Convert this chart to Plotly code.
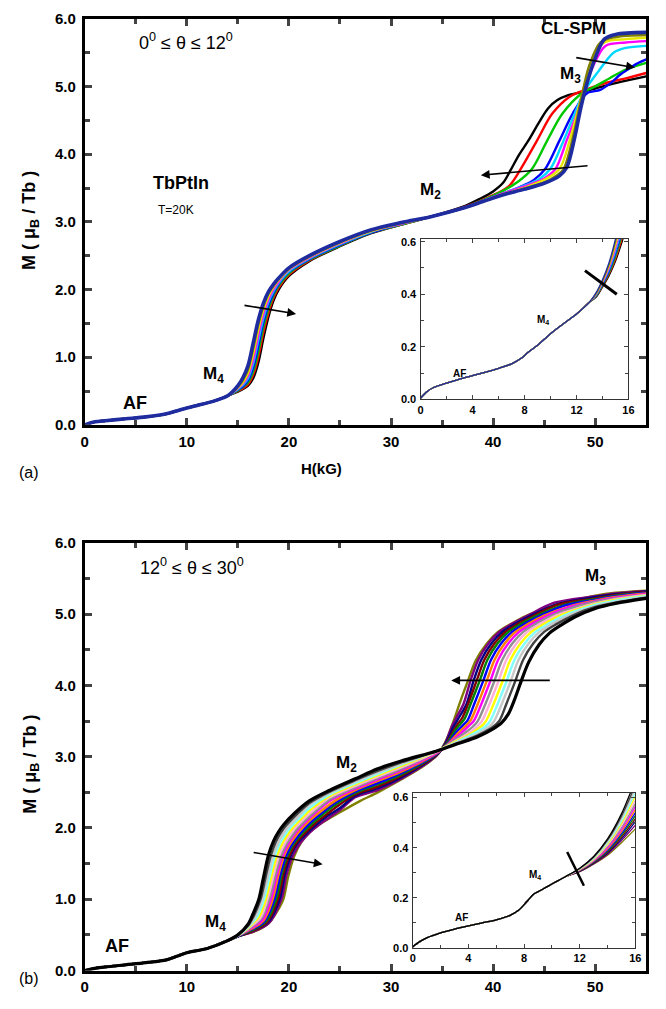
import plotly.graph_objects as go

W, H = 666, 1009

# ---------------- panel (a): 0 deg <= theta <= 12 deg ----------------
# low-field part shared by every curve (H in kG, M in muB/Tb)
h_a_low = [0, 1, 2, 4, 6, 8, 9, 10, 11, 12, 13, 14]
m_a_low = [0, 0.045, 0.062, 0.09, 0.118, 0.163, 0.206, 0.25, 0.288, 0.325, 0.37, 0.43]

h_a_black = [15, 15.5, 16, 16.5, 17, 17.5, 18, 18.5, 19, 20, 22, 25, 28, 31, 34, 37, 38.7, 40, 41, 41.7, 42.5, 43.5, 44.5, 45.4, 46.3, 47.3, 48.8, 50, 52, 55]
m_a_black = [0.49, 0.53, 0.58, 0.69, 0.92, 1.28, 1.6, 1.84, 2.0, 2.2, 2.42, 2.64, 2.83, 2.96, 3.08, 3.22, 3.34, 3.45, 3.58, 3.76, 3.98, 4.21, 4.47, 4.68, 4.8, 4.87, 4.92, 4.97, 5.05, 5.15]
h_a_red = [15, 15.5, 16, 16.5, 17, 17.5, 18, 18.5, 19, 20, 22, 25, 28, 31, 34, 37, 39.5, 41.5, 42.7, 44.3, 45.8, 47.5, 49, 51, 53, 55]
m_a_red = [0.5, 0.54, 0.6, 0.74, 1.0, 1.37, 1.66, 1.88, 2.03, 2.22, 2.43, 2.65, 2.84, 2.96, 3.08, 3.21, 3.36, 3.52, 3.78, 4.2, 4.6, 4.85, 4.95, 5.05, 5.12, 5.2]
h_a_green = [15, 15.5, 16, 16.5, 17, 17.5, 18, 18.5, 19, 20, 22, 25, 28, 31, 34, 37, 39, 40.5, 42.5, 43.8, 45.3, 46.8, 48.7, 50, 51.5, 53, 55]
m_a_green = [0.51, 0.56, 0.63, 0.79, 1.08, 1.45, 1.72, 1.92, 2.06, 2.24, 2.44, 2.65, 2.84, 2.96, 3.08, 3.2, 3.32, 3.42, 3.6, 3.78, 4.2, 4.6, 4.9, 5.0, 5.13, 5.25, 5.35]
h_a_blue = [15, 15.5, 16, 16.5, 17, 17.5, 18, 18.5, 19, 20, 22, 25, 28, 31, 34, 37, 39, 41, 43, 44, 45.1, 46.5, 47.8, 49.2, 50.5, 51.5, 52.5, 53.2, 54, 55]
m_a_blue = [0.52, 0.57, 0.66, 0.85, 1.17, 1.52, 1.77, 1.95, 2.08, 2.26, 2.45, 2.66, 2.84, 2.97, 3.08, 3.2, 3.31, 3.42, 3.54, 3.62, 3.78, 4.2, 4.6, 4.9, 4.95, 5.05, 5.18, 5.25, 5.33, 5.4]
h_a_cyan = [15, 15.5, 16, 16.5, 17, 17.5, 18, 18.5, 19, 20, 22, 25, 28, 31, 34, 37, 39, 41, 43, 44.5, 45.6, 46.9, 48, 48.9, 50.3, 51.8, 53, 55]
m_a_cyan = [0.53, 0.59, 0.69, 0.91, 1.25, 1.58, 1.82, 1.98, 2.1, 2.27, 2.46, 2.67, 2.85, 2.97, 3.08, 3.2, 3.31, 3.42, 3.53, 3.63, 3.78, 4.2, 4.6, 4.92, 5.22, 5.5, 5.57, 5.6]
h_a_magenta = [15, 15.5, 16, 16.5, 17, 17.5, 18, 18.5, 19, 20, 22, 25, 28, 31, 34, 37, 39, 41, 43, 45, 46.1, 47.2, 48.2, 48.9, 49.8, 51, 53, 55]
m_a_magenta = [0.54, 0.61, 0.73, 0.97, 1.33, 1.64, 1.86, 2.01, 2.12, 2.29, 2.47, 2.68, 2.86, 2.97, 3.08, 3.2, 3.31, 3.42, 3.52, 3.64, 3.78, 4.2, 4.6, 4.95, 5.3, 5.6, 5.65, 5.67]
h_a_yellow = [15, 15.5, 16, 16.5, 17, 17.5, 18, 18.5, 19, 20, 22, 25, 28, 31, 34, 37, 39, 41, 43, 45, 46.5, 47.5, 48.4, 49.1, 50, 51, 53, 55]
m_a_yellow = [0.55, 0.63, 0.77, 1.05, 1.41, 1.7, 1.9, 2.04, 2.14, 2.3, 2.48, 2.69, 2.86, 2.98, 3.08, 3.2, 3.3, 3.41, 3.5, 3.62, 3.78, 4.2, 4.7, 5.1, 5.5, 5.66, 5.7, 5.72]
h_a_olive = [15, 15.5, 16, 16.5, 17, 17.5, 18, 18.5, 19, 20, 22, 25, 28, 31, 34, 37, 39, 41, 43, 45, 46.2, 46.9, 47.9, 48.6, 49.4, 50.5, 52, 55]
m_a_olive = [0.56, 0.66, 0.82, 1.13, 1.48, 1.75, 1.94, 2.06, 2.16, 2.31, 2.49, 2.7, 2.87, 2.98, 3.08, 3.2, 3.3, 3.4, 3.49, 3.58, 3.68, 3.78, 4.3, 4.8, 5.3, 5.65, 5.73, 5.76]
h_a_navy = [15, 15.5, 16, 16.5, 17, 17.5, 18, 18.5, 19, 20, 22, 25, 28, 31, 34, 37, 39, 41, 43, 45, 46.5, 47.2, 48, 48.6, 49.3, 50, 50.9, 52, 55]
m_a_navy = [0.58, 0.7, 0.88, 1.21, 1.55, 1.8, 1.97, 2.08, 2.17, 2.32, 2.5, 2.71, 2.88, 2.99, 3.08, 3.2, 3.3, 3.4, 3.48, 3.57, 3.68, 3.8, 4.25, 4.69, 5.1, 5.42, 5.7, 5.77, 5.8]

curves_a = [
    ("#000000", h_a_black, m_a_black),
    ("#ff0000", h_a_red, m_a_red),
    ("#00c800", h_a_green, m_a_green),
    ("#0000ff", h_a_blue, m_a_blue),
    ("#00d8ff", h_a_cyan, m_a_cyan),
    ("#ff00ff", h_a_magenta, m_a_magenta),
    ("#e6e600", h_a_yellow, m_a_yellow),
    ("#808000", h_a_olive, m_a_olive),
    ("#1e2ca0", h_a_navy, m_a_navy),
]

# inset (a): low-field detail
h_ia_low = [0, 0.5, 1, 2, 3, 4, 5, 6, 7, 7.8, 8.3, 9, 10, 11, 12, 13]
m_ia_low = [0.005, 0.03, 0.045, 0.062, 0.077, 0.09, 0.103, 0.118, 0.135, 0.158, 0.18, 0.206, 0.25, 0.288, 0.325, 0.37]
h_ia_tail = [13.5, 14, 14.5, 15, 15.5, 16]
m_ia_black = [0.388, 0.427, 0.47, 0.525, 0.598, 0.68]
m_ia_red = [0.39, 0.43, 0.475, 0.533, 0.61, 0.7]
m_ia_green = [0.392, 0.433, 0.48, 0.542, 0.622, 0.72]
m_ia_blue = [0.394, 0.436, 0.486, 0.552, 0.635, 0.74]
m_ia_cyan = [0.396, 0.44, 0.492, 0.562, 0.65, 0.76]
m_ia_magenta = [0.398, 0.443, 0.498, 0.573, 0.665, 0.78]
m_ia_yellow = [0.4, 0.447, 0.505, 0.585, 0.68, 0.8]
m_ia_olive = [0.402, 0.45, 0.512, 0.598, 0.7, 0.82]
m_ia_navy = [0.405, 0.455, 0.52, 0.61, 0.72, 0.84]
inset_a = [m_ia_black, m_ia_red, m_ia_green, m_ia_blue, m_ia_cyan,
           m_ia_magenta, m_ia_yellow, m_ia_olive, m_ia_navy]

# ---------------- panel (b): 12 deg <= theta <= 30 deg ----------------
h_b_low = [0, 1, 2, 4, 6, 8, 9, 10, 12, 14]
m_b_low = [0, 0.03, 0.05, 0.08, 0.11, 0.15, 0.2, 0.25, 0.31, 0.42]

h_b_00 = [15, 16, 16.5, 17.05, 17.5, 18, 18.5, 19, 19.5, 20.5, 22, 24, 26.5, 28.7, 31, 34.5, 36.5, 38.5, 40, 40.8, 41.5, 42.1, 42.7, 43.5, 44.5, 45.5, 46.7, 48, 50, 52, 55]
m_b_00 = [0.5, 0.65, 0.8, 1.0, 1.3, 1.62, 1.82, 1.95, 2.05, 2.2, 2.38, 2.53, 2.69, 2.83, 2.94, 3.08, 3.18, 3.28, 3.39, 3.47, 3.6, 3.8, 4.04, 4.33, 4.57, 4.73, 4.85, 4.96, 5.08, 5.15, 5.22]
h_b_01 = [15, 16, 16.6, 17.22, 17.7, 18.2, 18.7, 19.2, 19.7, 20.7, 22, 24, 26.5, 28.7, 31, 34.5, 36.5, 38.5, 40, 40.6, 41.3, 42.2, 42.95, 43.95, 45, 46.2, 47.8, 50, 52, 55]
m_b_01 = [0.5, 0.63, 0.78, 1.0, 1.3, 1.6, 1.8, 1.93, 2.03, 2.18, 2.35, 2.51, 2.67, 2.8, 2.92, 3.08, 3.19, 3.3, 3.42, 3.5, 3.74, 4.07, 4.36, 4.59, 4.75, 4.86, 4.98, 5.1, 5.16, 5.23]
h_b_02 = [15, 16, 16.7, 17.39, 17.9, 18.4, 18.9, 19.4, 19.9, 20.9, 22, 24, 26.5, 28.7, 31, 34.5, 36.5, 38.5, 39.6, 40.1, 40.85, 41.75, 42.5, 43.5, 44.55, 45.75, 47.35, 50, 52, 55]
m_b_02 = [0.5, 0.62, 0.76, 1.0, 1.3, 1.59, 1.78, 1.91, 2.01, 2.16, 2.32, 2.49, 2.65, 2.78, 2.9, 3.08, 3.2, 3.32, 3.42, 3.5, 3.74, 4.07, 4.36, 4.59, 4.75, 4.86, 4.98, 5.11, 5.17, 5.24]
h_b_03 = [15, 16, 16.9, 17.56, 18.1, 18.6, 19.1, 19.6, 20.1, 21.1, 22, 24, 26.5, 28.7, 31, 34.5, 36.5, 38.2, 39.2, 39.7, 40.45, 41.35, 42.1, 43.1, 44.15, 45.35, 46.95, 50, 52, 55]
m_b_03 = [0.49, 0.61, 0.76, 1.0, 1.32, 1.6, 1.78, 1.9, 2.0, 2.15, 2.28, 2.47, 2.63, 2.76, 2.89, 3.08, 3.21, 3.33, 3.42, 3.5, 3.74, 4.07, 4.36, 4.59, 4.75, 4.86, 4.98, 5.13, 5.19, 5.25]
h_b_04 = [15, 16, 17.1, 17.73, 18.3, 18.8, 19.3, 19.8, 20.3, 21.3, 22.3, 24, 26.5, 28.7, 31, 34.5, 36.3, 37.9, 38.8, 39.3, 40.05, 40.95, 41.7, 42.7, 43.75, 44.95, 46.55, 50, 52, 55]
m_b_04 = [0.49, 0.6, 0.76, 1.0, 1.33, 1.6, 1.77, 1.89, 1.99, 2.14, 2.28, 2.45, 2.61, 2.74, 2.87, 3.08, 3.21, 3.33, 3.42, 3.5, 3.74, 4.07, 4.36, 4.59, 4.75, 4.86, 4.98, 5.14, 5.2, 5.26]
h_b_05 = [15, 16, 17.2, 17.9, 18.5, 19, 19.5, 20, 20.5, 21.5, 22.5, 24, 26.5, 28.7, 31, 34.5, 36.2, 37.6, 38.4, 38.9, 39.65, 40.55, 41.3, 42.3, 43.35, 44.55, 46.15, 48.5, 50, 52, 55]
m_b_05 = [0.49, 0.59, 0.74, 1.0, 1.34, 1.6, 1.76, 1.88, 1.98, 2.13, 2.26, 2.43, 2.59, 2.72, 2.85, 3.07, 3.21, 3.33, 3.42, 3.5, 3.74, 4.07, 4.36, 4.59, 4.75, 4.86, 4.98, 5.09, 5.15, 5.21, 5.27]
h_b_06 = [15, 16, 17.3, 18.07, 18.7, 19.2, 19.7, 20.2, 20.7, 21.7, 22.7, 24, 26.5, 28.7, 31, 34.5, 36, 37.3, 38, 38.5, 39.25, 40.15, 40.9, 41.9, 42.95, 44.15, 45.75, 48, 50, 52, 55]
m_b_06 = [0.49, 0.58, 0.73, 1.0, 1.35, 1.6, 1.76, 1.87, 1.97, 2.12, 2.25, 2.4, 2.57, 2.7, 2.83, 3.07, 3.21, 3.34, 3.42, 3.5, 3.74, 4.07, 4.36, 4.59, 4.75, 4.86, 4.98, 5.1, 5.17, 5.22, 5.27]
h_b_07 = [15, 16, 17.4, 18.24, 18.8, 19.3, 19.8, 20.3, 20.8, 21.8, 22.8, 24, 26.5, 28.7, 31, 34.5, 35.9, 37, 37.6, 38.1, 38.85, 39.75, 40.5, 41.5, 42.55, 43.75, 45.35, 47.5, 50, 52, 55]
m_b_07 = [0.49, 0.57, 0.71, 1.0, 1.33, 1.58, 1.74, 1.86, 1.96, 2.11, 2.24, 2.38, 2.55, 2.68, 2.81, 3.06, 3.21, 3.35, 3.43, 3.5, 3.74, 4.07, 4.36, 4.59, 4.75, 4.86, 4.98, 5.1, 5.18, 5.23, 5.28]
h_b_08 = [15, 16, 17.5, 18.41, 19, 19.5, 20, 20.5, 21, 22, 23, 24.5, 26.5, 28.7, 31, 34.5, 35.8, 36.7, 37.3, 37.8, 38.5, 39.4, 40.15, 41.15, 42.2, 43.4, 45, 47.5, 50, 52, 55]
m_b_08 = [0.49, 0.56, 0.7, 1.0, 1.36, 1.6, 1.75, 1.86, 1.95, 2.1, 2.22, 2.38, 2.53, 2.66, 2.79, 3.05, 3.21, 3.35, 3.43, 3.51, 3.74, 4.07, 4.36, 4.59, 4.75, 4.86, 4.98, 5.11, 5.19, 5.24, 5.29]
h_b_09 = [15, 16, 17.6, 18.58, 19.2, 19.7, 20.2, 20.7, 21.2, 22.2, 23.2, 24.5, 26.5, 28.7, 31, 34.5, 35.7, 36.5, 37.05, 37.5, 38.15, 39.05, 39.8, 40.8, 41.85, 43.05, 44.65, 47, 50, 52, 55]
m_b_09 = [0.48, 0.55, 0.69, 1.0, 1.37, 1.6, 1.75, 1.85, 1.94, 2.09, 2.21, 2.35, 2.51, 2.63, 2.77, 3.04, 3.21, 3.36, 3.44, 3.51, 3.74, 4.07, 4.36, 4.59, 4.75, 4.86, 4.98, 5.12, 5.2, 5.25, 5.3]
h_b_10 = [15, 16, 17.7, 18.75, 19.3, 19.8, 20.3, 20.8, 21.4, 22.4, 23.4, 24.5, 26.5, 28.7, 31, 34.5, 35.6, 36.3, 36.8, 37.2, 37.8, 38.7, 39.45, 40.45, 41.5, 42.7, 44.3, 47, 50, 52, 55]
m_b_10 = [0.48, 0.54, 0.68, 1.0, 1.36, 1.59, 1.74, 1.84, 1.94, 2.08, 2.2, 2.32, 2.49, 2.61, 2.75, 3.04, 3.21, 3.37, 3.46, 3.53, 3.74, 4.07, 4.36, 4.59, 4.75, 4.86, 4.98, 5.13, 5.21, 5.26, 5.3]
h_b_11 = [15, 16, 17.8, 18.92, 19.5, 20, 20.5, 21, 21.6, 22.6, 23.6, 24.5, 26.5, 28.7, 31, 34.5, 35.5, 36.15, 36.6, 37, 37.55, 38.4, 39.15, 40.15, 41.2, 42.4, 44, 46.5, 50, 52, 55]
m_b_11 = [0.48, 0.53, 0.67, 1.0, 1.38, 1.6, 1.74, 1.84, 1.93, 2.07, 2.18, 2.28, 2.47, 2.58, 2.73, 3.03, 3.2, 3.37, 3.47, 3.55, 3.74, 4.07, 4.36, 4.59, 4.75, 4.86, 4.98, 5.14, 5.22, 5.27, 5.31]
h_b_12 = [15, 16, 17.9, 19.09, 19.6, 20.1, 20.6, 21.1, 21.8, 22.8, 23.8, 25, 26.5, 28.7, 31, 34.5, 35.4, 36.05, 36.7, 37.4, 38.1, 38.85, 39.85, 40.9, 42.1, 43.7, 46.5, 50, 52, 55]
m_b_12 = [0.48, 0.53, 0.67, 1.0, 1.35, 1.58, 1.73, 1.83, 1.93, 2.06, 2.17, 2.28, 2.45, 2.56, 2.71, 3.03, 3.2, 3.4, 3.56, 3.74, 4.07, 4.36, 4.59, 4.75, 4.86, 4.98, 5.15, 5.24, 5.28, 5.32]
h_b_13 = [15, 16, 18, 19.26, 19.75, 20.3, 20.8, 21.3, 22, 23, 24, 25, 26.5, 28.7, 31, 34.5, 35.35, 35.95, 36.6, 37.1, 37.8, 38.55, 39.55, 40.6, 41.8, 43.4, 46, 50, 52, 55]
m_b_13 = [0.48, 0.52, 0.66, 1.0, 1.33, 1.58, 1.72, 1.82, 1.93, 2.05, 2.15, 2.25, 2.43, 2.53, 2.69, 3.02, 3.2, 3.42, 3.6, 3.74, 4.07, 4.36, 4.59, 4.75, 4.86, 4.98, 5.16, 5.25, 5.29, 5.32]
h_b_14 = [15, 16, 17, 18, 18.8, 19.45, 19.9, 20.5, 21.2, 22.1, 23, 25, 27, 28.7, 31, 33, 34.5, 35.3, 36, 36.8, 37.55, 38.3, 39.3, 40.4, 41.6, 43.3, 45.1, 47.5, 50, 52, 55]
m_b_14 = [0.48, 0.52, 0.57, 0.66, 0.82, 1.0, 1.3, 1.6, 1.8, 1.95, 2.05, 2.22, 2.38, 2.5, 2.68, 2.85, 3.02, 3.2, 3.45, 3.78, 4.07, 4.35, 4.57, 4.74, 4.85, 4.98, 5.08, 5.18, 5.26, 5.3, 5.33]

colors_b = ["#000000", "#404040", "#c8c8c8", "#80ffff", "#ffff00",
            "#ffb0d8", "#909090", "#ff00ff", "#ff8000", "#0000ff",
            "#008000", "#800000", "#000080", "#800080", "#808000"]
curves_b = [(h_b_00, m_b_00), (h_b_01, m_b_01), (h_b_02, m_b_02), (h_b_03, m_b_03),
            (h_b_04, m_b_04), (h_b_05, m_b_05), (h_b_06, m_b_06), (h_b_07, m_b_07),
            (h_b_08, m_b_08), (h_b_09, m_b_09), (h_b_10, m_b_10), (h_b_11, m_b_11),
            (h_b_12, m_b_12), (h_b_13, m_b_13), (h_b_14, m_b_14)]

# inset (b)
h_ib_low = [0, 0.5, 1, 2, 3, 4, 5, 6, 7, 7.6, 8.2, 8.7, 9.2, 10, 11]
m_ib_low = [0.005, 0.025, 0.04, 0.06, 0.075, 0.088, 0.1, 0.112, 0.13, 0.15, 0.185, 0.215, 0.23, 0.255, 0.285]
h_ib_tail = [12, 13, 14, 15, 16]
m_ib_00 = [0.318, 0.365, 0.435, 0.535, 0.67]
m_ib_01 = [0.317, 0.362, 0.43, 0.525, 0.65]
m_ib_02 = [0.316, 0.36, 0.425, 0.515, 0.635]
m_ib_03 = [0.315, 0.357, 0.42, 0.505, 0.62]
m_ib_04 = [0.314, 0.355, 0.415, 0.497, 0.605]
m_ib_05 = [0.313, 0.352, 0.41, 0.489, 0.59]
m_ib_06 = [0.312, 0.35, 0.405, 0.48, 0.577]
m_ib_07 = [0.311, 0.348, 0.4, 0.472, 0.565]
m_ib_08 = [0.31, 0.346, 0.395, 0.464, 0.552]
m_ib_09 = [0.309, 0.344, 0.39, 0.456, 0.54]
m_ib_10 = [0.308, 0.342, 0.386, 0.449, 0.528]
m_ib_11 = [0.307, 0.34, 0.382, 0.442, 0.516]
m_ib_12 = [0.306, 0.338, 0.378, 0.435, 0.504]
m_ib_13 = [0.305, 0.336, 0.374, 0.428, 0.49]
m_ib_14 = [0.304, 0.334, 0.37, 0.42, 0.475]
inset_b = [m_ib_00, m_ib_01, m_ib_02, m_ib_03, m_ib_04, m_ib_05, m_ib_06, m_ib_07,
           m_ib_08, m_ib_09, m_ib_10, m_ib_11, m_ib_12, m_ib_13, m_ib_14]

# ---------------- figure ----------------
fig = go.Figure()


def add_curve(xs, ys, color, width, xa, ya):
    fig.add_trace(go.Scatter(x=xs, y=ys, mode="lines",
                             line=dict(color=color, width=width, shape="spline", smoothing=0.9),
                             xaxis=xa, yaxis=ya, showlegend=False, hoverinfo="skip"))


for color, hs, ms in curves_a:
    w = 3.6 if color == "#1e2ca0" else 2.4
    add_curve(h_a_low + hs, m_a_low + ms, color, w, "x", "y")

for (color, _, _), tail in zip(curves_a, inset_a):
    add_curve(h_ia_low + h_ia_tail, m_ia_low + tail, color, 1.3, "x2", "y2")

# black (lowest theta) on top in panel (b): draw it last
for color, (hs, ms) in reversed(list(zip(colors_b, curves_b))):
    w = 3.2 if color == "#000000" else 2.4
    add_curve(h_b_low + hs, m_b_low + ms, color, w, "x3", "y3")

for color, tail in reversed(list(zip(colors_b, inset_b))):
    add_curve(h_ib_low + h_ib_tail, m_ib_low + tail, color, 1.3, "x4", "y4")


def px_dom(a, b):
    return [a / W, b / W]


def py_dom(top, bottom):
    return [1 - bottom / H, 1 - top / H]


FONT = "Liberation Sans, Arial, sans-serif"
tickfont_main = dict(family=FONT, size=15, color="black", weight="bold")
tickfont_in = dict(family=FONT, size=11, color="black", weight="bold")


def main_x(dom_y_anchor):
    return dict(domain=px_dom(82, 652), range=[0, 55], anchor=dom_y_anchor,
                tickvals=[0, 10, 20, 30, 40, 50], ticks="inside", ticklen=7, tickwidth=2.5,
                minor=dict(ticks="inside", ticklen=5, tickwidth=2.5, tickvals=[5, 15, 25, 35, 45, 55]),
                showline=True, linewidth=2.8, linecolor="black", mirror="ticks",
                showgrid=False, zeroline=False, tickfont=tickfont_main, ticklabelstandoff=1)


def main_y(dom, x_anchor):
    return dict(domain=dom, range=[0, 6], anchor=x_anchor,
                tickvals=[0, 1, 2, 3, 4, 5, 6], tickformat=".1f", ticks="inside", ticklen=7, tickwidth=2.5,
                minor=dict(ticks="inside", ticklen=5, tickwidth=2.5, tickvals=[0.5, 1.5, 2.5, 3.5, 4.5, 5.5]),
                showline=True, linewidth=2.8, linecolor="black", mirror="ticks",
                showgrid=False, zeroline=False, tickfont=tickfont_main, ticklabelstandoff=3)


def inset_x(dom, y_anchor):
    return dict(domain=dom, range=[0, 16], anchor=y_anchor,
                tickvals=[0, 4, 8, 12, 16], ticks="inside", ticklen=4, tickwidth=1,
                minor=dict(ticks="inside", ticklen=3, tickwidth=1, tickvals=[2, 6, 10, 14]),
                showline=True, linewidth=1.4, linecolor="#333333", mirror="ticks",
                showgrid=False, zeroline=False, tickfont=tickfont_in, ticklabelstandoff=0)


def inset_y(dom, x_anchor, top):
    return dict(domain=dom, range=[0, top], anchor=x_anchor,
                tickvals=[0, 0.2, 0.4, 0.6], tickformat=".1f", ticks="inside", ticklen=4, tickwidth=1,
                minor=dict(ticks="inside", ticklen=3, tickwidth=1, tickvals=[0.1, 0.3, 0.5]),
                showline=True, linewidth=1.4, linecolor="#333333", mirror="ticks",
                showgrid=False, zeroline=False, tickfont=tickfont_in, ticklabelstandoff=1)


fig.update_layout(
    width=W, height=H, margin=dict(l=0, r=0, t=0, b=0),
    paper_bgcolor="white", plot_bgcolor="white", showlegend=False,
    xaxis=main_x("y"),
    yaxis=main_y(py_dom(10, 423), "x"),
    xaxis2=inset_x(px_dom(423, 634), "y2"),
    yaxis2=inset_y(py_dom(234, 397), "x2", 0.61),
    xaxis3=main_x("y3"),
    yaxis3=main_y(py_dom(543, 978), "x3"),
    xaxis4=inset_x(px_dom(415, 641), "y4"),
    yaxis4=inset_y(py_dom(797, 955), "x4", 0.62),
)

ann = []


def label(text, x, y, xref, yref, size, bold=True, color="black"):
    ann.append(dict(text=text, x=x, y=y, xref=xref, yref=yref, showarrow=False,
                    xanchor="center", yanchor="middle",
                    font=dict(family=FONT, size=size, color=color,
                              weight="bold" if bold else "normal")))


def arrow(x0, y0, x1, y1, xref, yref):
    ann.append(dict(text="", x=x1, y=y1, ax=x0, ay=y0, xref=xref, yref=yref,
                    axref=xref, ayref=yref, showarrow=True, arrowhead=2,
                    arrowsize=1.1, arrowwidth=1.6, arrowcolor="black"))


# panel (a) text
label("0<sup>0</sup> ≤ θ ≤ 12<sup>0</sup>", 9.9, 5.67, "x", "y", 18, bold=False)
label("CL-SPM", 47.9, 5.86, "x", "y", 17)
label("M<sub>3</sub>", 47.6, 5.17, "x", "y", 17)
label("M<sub>2</sub>", 33.9, 3.46, "x", "y", 17)
label("TbPtIn", 9.4, 3.57, "x", "y", 18)
label("T=20K", 8.9, 3.17, "x", "y", 12, bold=False)
label("M<sub>4</sub>", 12.6, 0.74, "x", "y", 17)
label("AF", 4.9, 0.33, "x", "y", 18)
arrow(15.5, 1.77, 20.7, 1.64, "x", "y")
arrow(49.4, 3.83, 38.8, 3.69, "x", "y")
arrow(48.0, 5.43, 53.9, 5.28, "x", "y")
label("AF", 3.0, 0.10, "x2", "y2", 10)
label("M<sub>4</sub>", 9.4, 0.30, "x2", "y2", 10)

# panel (b) text
label("12<sup>0</sup> ≤ θ ≤ 30<sup>0</sup>", 10.5, 5.67, "x3", "y3", 18, bold=False)
label("M<sub>3</sub>", 50.0, 5.52, "x3", "y3", 17)
label("M<sub>2</sub>", 25.6, 2.9, "x3", "y3", 17)
label("M<sub>4</sub>", 12.8, 0.66, "x3", "y3", 17)
label("AF", 3.2, 0.34, "x3", "y3", 18)
arrow(16.4, 1.66, 23.3, 1.49, "x3", "y3")
arrow(45.7, 4.07, 35.9, 4.07, "x3", "y3")
label("AF", 3.5, 0.12, "x4", "y4", 10)
label("M<sub>4</sub>", 8.8, 0.29, "x4", "y4", 10)

# axis titles and panel tags (paper coordinates)
ylab = "M ( μ<sub>B</sub> / Tb )"
for yc in (215, 768):
    ann.append(dict(text=ylab, x=27 / W, y=1 - yc / H, xref="paper", yref="paper",
                    showarrow=False, textangle=-90, xanchor="center", yanchor="middle",
                    font=dict(family=FONT, size=18, color="black", weight="bold")))
ann.append(dict(text="H(kG)", x=322 / W, y=1 - 467 / H, xref="paper", yref="paper",
                showarrow=False, xanchor="center", yanchor="middle",
                font=dict(family=FONT, size=15, color="black", weight="bold")))
for tag, yc in (("(a)", 471), ("(b)", 986)):
    ann.append(dict(text=tag, x=25 / W, y=1 - yc / H, xref="paper", yref="paper",
                    showarrow=False, xanchor="center", yanchor="middle",
                    font=dict(family=FONT, size=16, color="black")))
fig.update_layout(annotations=ann)

# markers crossing the inset bundles
fig.add_shape(type="line", x0=12.65, y0=0.49, x1=15.1, y1=0.40, xref="x2", yref="y2",
              line=dict(color="black", width=3))
fig.add_shape(type="line", x0=11.1, y0=0.383, x1=12.3, y1=0.248, xref="x4", yref="y4",
              line=dict(color="black", width=2.5))

fig.write_html("out.html")
